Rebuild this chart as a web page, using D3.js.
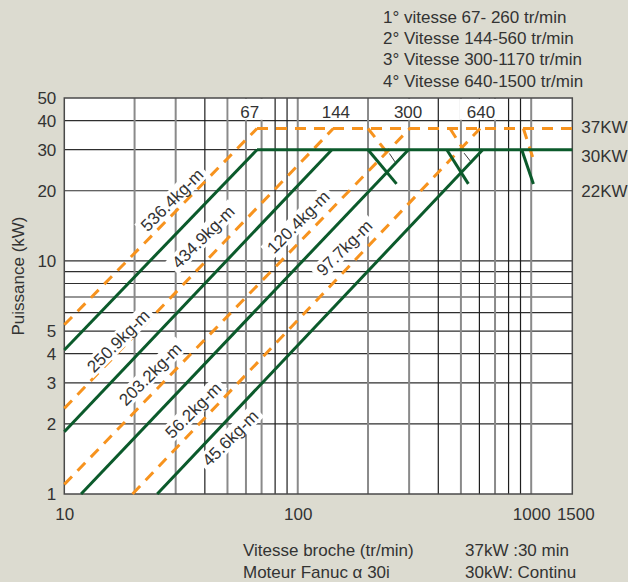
<!DOCTYPE html>
<html>
<head>
<meta charset="utf-8">
<script src="https://cdn.jsdelivr.net/npm/d3@7"></script>
<style>
  html, body { margin: 0; padding: 0; background: #dcdbd0; }
  svg { display: block; }
  text { font-family: "Liberation Sans", Arial, Helvetica, sans-serif; fill: #333; }
</style>
</head>
<body>
<svg id="chart" width="628" height="582"></svg>
<script>
// ---------- data ----------
const xTickValues = [10, 100, 1000, 1500];
const yTickValues = [1, 2, 3, 4, 5, 10, 20, 30, 40, 50];
const xGridDark = [40, 80, 90, 400, 600, 800, 900];
const xGridGray = [20, 30, 50, 60, 70, 100, 200, 300, 500, 700, 1000];
const yGrid = [2, 3, 4, 5, 6, 7, 8, 9, 10, 20, 30, 40];

// 30 kW continuous (green, solid): [speed tr/min, power kW]
const greenLines = [
  [[10, 4.15], [66.9, 30]],
  [[10, 1.85], [140, 30]],
  [[11.8, 1], [298, 30]],
  [[25, 1], [620, 30]],
  [[66.9, 30], [1500, 30]],
  [[200, 30], [265, 21.4]],
  [[435, 30], [538, 21.4]],
  [[911, 30], [1022, 21.4]]
];
// 37 kW 30 min (orange, dashed)
const orangeLines = [
  [[10, 5.32], [66.9, 37]],
  [[10, 2.33], [142, 37]],
  [[10, 1.1], [302, 37]],
  [[19.6, 1], [604, 37]],
  [[66.9, 37], [1500, 37]],
  [[200, 37], [247, 28.3]],
  [[449, 37], [516, 29.7]],
  [[926, 37], [1039, 25.9]]
];
// thin black connectors
const connectorLines = [
  [[247, 28.9], [261, 26.6]],
  [[516, 29.0], [557, 26.3]]
];

const torqueLabels = ["536.4kg-m", "434.9kg-m", "120.4kg-m", "97.7kg-m",
                      "250.9kg-m", "203.2kg-m", "56.2kg-m", "45.6kg-m"];
const torqueLabelPos = [[28.9, 18.3], [39.3, 12.7], [100.3, 14.7], [158, 11.4],
                        [17.0, 4.54], [23.3, 3.27], [35.6, 2.29], [51.3, 1.74]];

const gearLabels = ["67", "144", "300", "640"];
const gearLabelSpeed = [62.3, 145.7, 297, 609];

const powerLabels = ["37KW", "30KW", "22KW"];
const powerLabelAt = [37.6, 28.3, 20];

const legendLines = ["1° vitesse 67- 260 tr/min", "2° Vitesse 144-560 tr/min",
                     "3° Vitesse 300-1170 tr/min", "4° Vitesse 640-1500 tr/min"];
const axisNotes = ["Vitesse broche (tr/min)", "Moteur Fanuc \u03b1 30i"];
const powerNotes = ["37kW :30 min", "30kW: Continu"];

// ---------- drawing ----------
const svg = d3.select("#chart");
const FONT = 17;
const x = d3.scaleLog().domain([10, 1500]).range([64.3, 572.3]);
const y = d3.scaleLog().domain([1, 50]).range([494, 98]);

const green = "#0b5a2b", orange = "#f7931e";

// plot background
svg.append("rect")
  .attr("x", x(10)).attr("y", y(50))
  .attr("width", x(1500) - x(10)).attr("height", y(1) - y(50))
  .attr("fill", "#fff");

const grid = svg.append("g");
grid.selectAll("line.hg").data(yGrid).join("line")
  .attr("x1", x(10)).attr("x2", x(1500))
  .attr("y1", d => y(d)).attr("y2", d => y(d))
  .attr("stroke", "#2e2e2e").attr("stroke-width", 1.2);
grid.selectAll("line.vg").data(xGridGray).join("line")
  .attr("x1", d => x(d)).attr("x2", d => x(d))
  .attr("y1", y(50)).attr("y2", y(1))
  .attr("stroke", "#8a8a8a").attr("stroke-width", 2);
grid.selectAll("line.vd").data(xGridDark).join("line")
  .attr("x1", d => x(d)).attr("x2", d => x(d))
  .attr("y1", y(50)).attr("y2", y(1))
  .attr("stroke", "#1e1e1e").attr("stroke-width", 1.2);

// white boxes behind gear labels at top
svg.append("g").selectAll("rect").data(gearLabelSpeed).join("rect")
  .attr("x", d => x(d) - 21).attr("y", y(50) + 0.8)
  .attr("width", 42).attr("height", y(40) - y(50) - 1.6)
  .attr("fill", "#fff");

// border
svg.append("rect")
  .attr("x", x(10)).attr("y", y(50))
  .attr("width", x(1500) - x(10)).attr("height", y(1) - y(50))
  .attr("fill", "none").attr("stroke", "#4a4a4a").attr("stroke-width", 1.5);

const line = d3.line().x(d => x(d[0])).y(d => y(d[1]));

svg.append("g").selectAll("path").data(connectorLines).join("path")
  .attr("d", line).attr("fill", "none").attr("stroke", "#222").attr("stroke-width", 0.9);

svg.append("g").selectAll("path").data(orangeLines).join("path")
  .attr("d", line).attr("fill", "none").attr("stroke", orange)
  .attr("stroke-width", 3).attr("stroke-dasharray", "11,8");

svg.append("g").selectAll("path").data(greenLines).join("path")
  .attr("d", line).attr("fill", "none").attr("stroke", green)
  .attr("stroke-width", 3).attr("stroke-linecap", "butt");

// white rotated boxes behind torque labels (drawn over lines)
const measure = svg.append("text").attr("font-size", FONT).attr("visibility", "hidden");
const labelWidths = torqueLabels.map(t => { measure.text(t); return measure.node().getComputedTextLength(); });
measure.remove();
svg.append("g").selectAll("rect").data(torqueLabels).join("rect")
  .attr("transform", (d, i) => `translate(${x(torqueLabelPos[i][0])},${y(torqueLabelPos[i][1])}) rotate(-45)`)
  .attr("x", (d, i) => -labelWidths[i] / 2 - 4).attr("y", -9)
  .attr("width", (d, i) => labelWidths[i] + 8).attr("height", 18)
  .attr("fill", "#fff");

// torque labels
svg.append("g").selectAll("text").data(torqueLabels).join("text")
  .attr("transform", (d, i) => `translate(${x(torqueLabelPos[i][0])},${y(torqueLabelPos[i][1])}) rotate(-45)`)
  .attr("text-anchor", "middle").attr("dy", "0.36em")
  .attr("font-size", FONT).text(d => d);

// gear labels
svg.append("g").selectAll("text").data(gearLabels).join("text")
  .attr("x", (d, i) => x(gearLabelSpeed[i])).attr("y", y(50) + 20)
  .attr("text-anchor", "middle").attr("font-size", FONT).text(d => d);

// power labels at right
svg.append("g").selectAll("text").data(powerLabels).join("text")
  .attr("x", x(1500) + 9).attr("y", (d, i) => y(powerLabelAt[i]))
  .attr("dy", "0.36em").attr("font-size", FONT).text(d => d);

// axes (labels only)
const xAxis = d3.axisBottom(x).tickValues(xTickValues).tickSize(0).tickPadding(0).tickFormat(d3.format("d"));
const gx = svg.append("g").attr("transform", `translate(0,${y(1) + 14})`).call(xAxis);
gx.select(".domain").remove();
gx.selectAll("text").attr("font-size", FONT).attr("dy", "0.71em").attr("fill", "#333")
  .attr("dx", d => d === 1500 ? 3 : 0)
  .style("font-family", '"Liberation Sans", Arial, sans-serif');

const yAxis = d3.axisLeft(y).tickValues(yTickValues).tickSize(0).tickPadding(0).tickFormat(d3.format("d"));
const gy = svg.append("g").attr("transform", `translate(${x(10) - 8},0)`).call(yAxis);
gy.select(".domain").remove();
gy.selectAll("text").attr("font-size", FONT).attr("fill", "#333")
  .style("font-family", '"Liberation Sans", Arial, sans-serif');

// y title
svg.append("text")
  .attr("transform", `translate(24,276) rotate(-90)`)
  .attr("text-anchor", "middle").attr("font-size", FONT).text("Puissance (kW)");

// legend top-right
svg.append("g").selectAll("text").data(legendLines).join("text")
  .attr("x", 383).attr("y", (d, i) => 23 + i * 21.2)
  .attr("font-size", FONT).text(d => d);

// notes at bottom
svg.append("g").selectAll("text").data(axisNotes).join("text")
  .attr("x", 243).attr("y", (d, i) => 556 + i * 22)
  .attr("font-size", FONT).text(d => d);
svg.append("g").selectAll("text").data(powerNotes).join("text")
  .attr("x", 465).attr("y", (d, i) => 556 + i * 22)
  .attr("font-size", FONT).text(d => d);
</script>
</body>
</html>
